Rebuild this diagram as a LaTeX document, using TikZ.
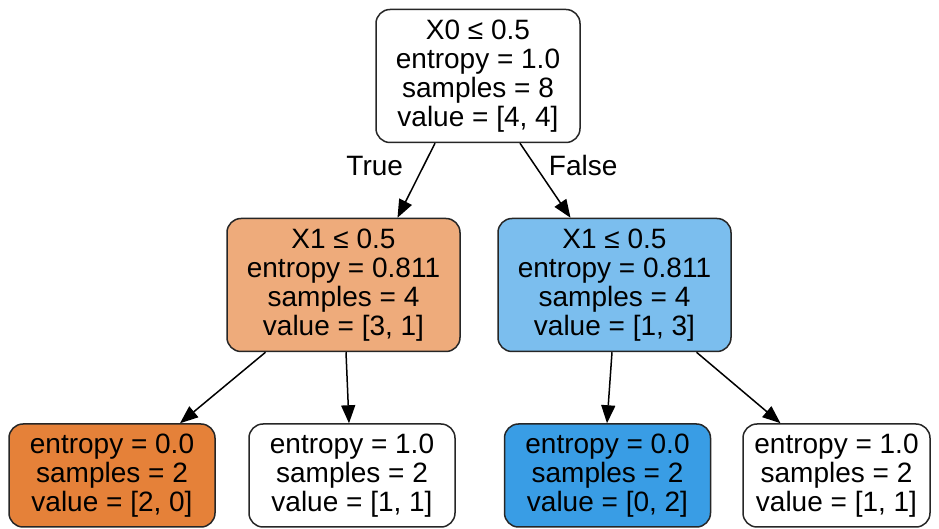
\documentclass[tikz,border=0pt]{standalone}
\usepackage{fontspec}
\setmainfont{Liberation Sans}
\usepackage{tikz}
\usetikzlibrary{arrows.meta}

\definecolor{orangemid}{HTML}{EEAB7B}
\definecolor{orangeleaf}{HTML}{E58139}
\definecolor{bluemid}{HTML}{7BBEEE}
\definecolor{blueleaf}{HTML}{399DE5}

\begin{document}
\begin{tikzpicture}[
    x=0.5pt, y=-0.5pt,
    box/.style={rectangle, rounded corners=7pt, draw=black!85, line width=0.75pt, fill=white, align=center, inner sep=0pt, font=\fontsize{14pt}{14.5pt}\selectfont},
    split/.style={box, minimum height=66.5pt},
    leaf/.style={box, minimum width=103pt, minimum height=51.5pt},
    arrow/.style={-{Triangle[length=9pt, width=7pt]}, line width=0.75pt},
    edgelabel/.style={font=\fontsize{14pt}{14.5pt}\selectfont, inner sep=0pt}
]
\useasboundingbox (0,0) rectangle (939,529);

\node[split, minimum width=102pt] (root) at (478,76) {X0 ≤ 0.5\\entropy = 1.0\\samples = 8\\value = [4, 4]};
\node[split, minimum width=116.5pt, fill=orangemid] (lmid) at (343.5,285) {X1 ≤ 0.5\\entropy = 0.811\\samples = 4\\value = [3, 1]};
\node[split, minimum width=116.5pt, fill=bluemid] (rmid) at (614.5,285) {X1 ≤ 0.5\\entropy = 0.811\\samples = 4\\value = [1, 3]};
\node[leaf, fill=orangeleaf] (leafa) at (112,475.5) {entropy = 0.0\\samples = 2\\value = [2, 0]};
\node[leaf] (leafb) at (352,475.5) {entropy = 1.0\\samples = 2\\value = [1, 1]};
\node[leaf, fill=blueleaf] (leafc) at (607.5,475.5) {entropy = 0.0\\samples = 2\\value = [0, 2]};
\node[leaf, minimum width=93.5pt] (leafd) at (836.5,475.5) {entropy = 1.0\\samples = 2\\value = [1, 1]};

\draw[arrow] ([xshift=-21.5pt]root.south) -- node[edgelabel, pos=0.3, left=10pt] {True} ([xshift=27pt]lmid.north);
\draw[arrow] ([xshift=21pt]root.south) -- node[edgelabel, pos=0.3, right=6.5pt] {False} ([xshift=-22pt]rmid.north);
\draw[arrow] ([xshift=-39pt]lmid.south) -- ([xshift=34pt]leafa.north);
\draw[arrow] ([xshift=1.25pt]lmid.south) -- ([xshift=-1.5pt]leafb.north);
\draw[arrow] ([xshift=-1.25pt]rmid.south) -- ([xshift=-0.25pt]leafc.north);
\draw[arrow] ([xshift=41pt]rmid.south) -- ([xshift=-28pt]leafd.north);
\end{tikzpicture}
\end{document}
